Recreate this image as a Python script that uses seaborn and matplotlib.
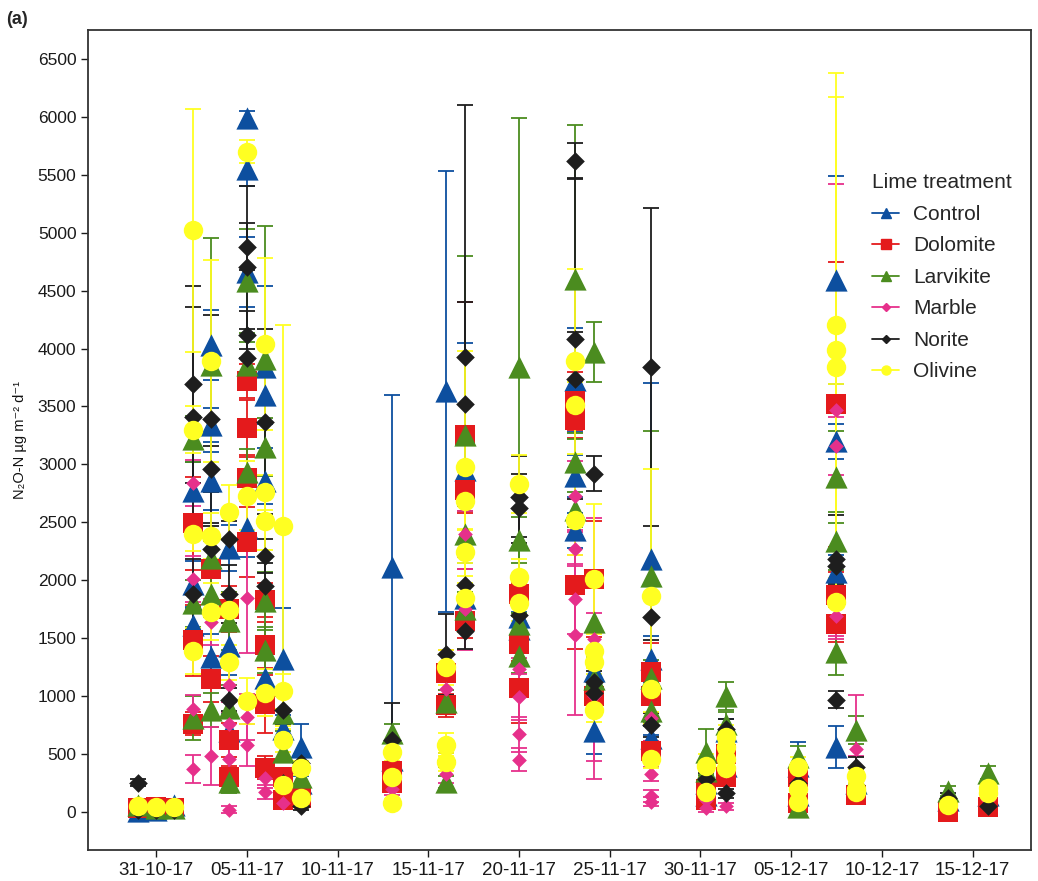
import pandas as pd
import numpy as np
import matplotlib.pyplot as plt
import matplotlib.dates as mdates
from matplotlib.lines import Line2D
import seaborn as sb

sb.set_style("white")
plt.rcParams['font.family'] = ['Liberation Sans', 'DejaVu Sans']

treatments = ["Control", "Dolomite", "Larvikite", "Marble", "Norite", "Olivine"]
colours = ["#0d4f9f", "#e41a1c", "#4b8c1f", "#e6308b", "#1e1e1e", "#ffff22"]
shapes = ["^", "s", "^", "D", "D", "o"]
sizes = [16, 14, 16, 7.5, 9.5, 14]   # marker size in points

# (sampling time, mean N2O-N flux, error)
control = [
    ("2017-10-30", 10, 10), ("2017-10-31", 20, 10), ("2017-11-01", 60, 20),
    ("2017-11-02", 2770, 250), ("2017-11-02", 1970, 200), ("2017-11-02", 1610, 150),
    ("2017-11-03", 4030, 300), ("2017-11-03", 3340, 150), ("2017-11-03", 2860, 250), ("2017-11-03", 1340, 200),
    ("2017-11-04", 2280, 200), ("2017-11-04", 1430, 250), ("2017-11-04", 700, 150),
    ("2017-11-05", 5990, 60), ("2017-11-05", 5550, 150), ("2017-11-05", 4660, 300), ("2017-11-05", 2450, 250),
    ("2017-11-06", 3840, 700), ("2017-11-06", 3600, 250), ("2017-11-06", 2860, 200), ("2017-11-06", 1160, 150),
    ("2017-11-07", 1320, 440), ("2017-11-07", 720, 120),
    ("2017-11-08", 560, 200), ("2017-11-08", 250, 60),
    ("2017-11-13", 2110, 1490), ("2017-11-13", 450, 80),
    ("2017-11-16", 3630, 1900),
    ("2017-11-17", 2950, 1100), ("2017-11-17", 1850, 300),
    ("2017-11-20", 1680, 200), ("2017-11-20", 1580, 150),
    ("2017-11-23 02:00", 3730, 450), ("2017-11-23 02:00", 2900, 180), ("2017-11-23 02:00", 2430, 150),
    ("2017-11-24 03:00", 1220, 120), ("2017-11-24 03:00", 700, 200),
    ("2017-11-27 06:00", 2180, 1520), ("2017-11-27 06:00", 1320, 200), ("2017-11-27 06:00", 640, 100),
    ("2017-11-30 08:00", 250, 60), ("2017-11-30 08:00", 150, 40),
    ("2017-12-01 10:00", 700, 100), ("2017-12-01 10:00", 400, 60),
    ("2017-12-05 09:00", 400, 200), ("2017-12-05 09:00", 150, 50),
    ("2017-12-07 12:00", 4590, 900), ("2017-12-07 12:00", 3200, 150), ("2017-12-07 12:00", 2070, 150),
    ("2017-12-07 12:00", 560, 180),
    ("2017-12-08 14:00", 250, 70),
    ("2017-12-13 16:00", 100, 30),
    ("2017-12-15 20:00", 150, 40),
]
dolomite = [
    ("2017-10-30", 30, 20), ("2017-10-31", 40, 20), ("2017-11-01", 30, 20),
    ("2017-11-02", 2490, 400), ("2017-11-02", 1480, 310), ("2017-11-02", 760, 100),
    ("2017-11-03", 2100, 300), ("2017-11-03", 1150, 200),
    ("2017-11-04", 1750, 200), ("2017-11-04", 620, 150), ("2017-11-04", 300, 100),
    ("2017-11-05", 3720, 150), ("2017-11-05", 3310, 250), ("2017-11-05", 2880, 200), ("2017-11-05", 2330, 300),
    ("2017-11-06", 1830, 150), ("2017-11-06", 1440, 200), ("2017-11-06", 930, 250), ("2017-11-06", 380, 100),
    ("2017-11-07", 300, 80), ("2017-11-07", 100, 40),
    ("2017-11-08", 120, 40),
    ("2017-11-13", 350, 80), ("2017-11-13", 250, 50),
    ("2017-11-16", 1200, 200), ("2017-11-16", 920, 100),
    ("2017-11-17", 3250, 1150), ("2017-11-17", 2780, 200), ("2017-11-17", 1650, 150),
    ("2017-11-20", 1880, 100), ("2017-11-20", 1450, 150), ("2017-11-20", 1070, 300),
    ("2017-11-23 02:00", 3550, 250), ("2017-11-23 02:00", 3380, 150), ("2017-11-23 02:00", 1960, 550),
    ("2017-11-24 03:00", 2010, 500), ("2017-11-24 03:00", 1000, 150),
    ("2017-11-27 06:00", 1210, 250), ("2017-11-27 06:00", 1000, 150), ("2017-11-27 06:00", 530, 80),
    ("2017-11-30 08:00", 200, 40), ("2017-11-30 08:00", 100, 30),
    ("2017-12-01 10:00", 500, 80), ("2017-12-01 10:00", 300, 60),
    ("2017-12-05 09:00", 300, 60), ("2017-12-05 09:00", 80, 30),
    ("2017-12-07 12:00", 3520, 1230), ("2017-12-07 12:00", 1870, 200), ("2017-12-07 12:00", 1620, 150),
    ("2017-12-08 14:00", 150, 40),
    ("2017-12-13 16:00", 0, 20),
    ("2017-12-15 20:00", 40, 20),
]
larvikite = [
    ("2017-10-30", 60, 30), ("2017-10-31", 30, 20), ("2017-11-01", 30, 20),
    ("2017-11-02", 3220, 200), ("2017-11-02", 1800, 200), ("2017-11-02", 810, 190),
    ("2017-11-03", 3860, 1090), ("2017-11-03", 2190, 150), ("2017-11-03", 1880, 200), ("2017-11-03", 880, 150),
    ("2017-11-04", 1650, 250), ("2017-11-04", 900, 200), ("2017-11-04", 260, 100),
    ("2017-11-05", 4580, 450), ("2017-11-05", 3860, 200), ("2017-11-05", 2930, 200),
    ("2017-11-06", 3910, 1150), ("2017-11-06", 3150, 250), ("2017-11-06", 1820, 250), ("2017-11-06", 1400, 200),
    ("2017-11-07", 850, 150), ("2017-11-07", 520, 80),
    ("2017-11-08", 300, 60),
    ("2017-11-13", 680, 80),
    ("2017-11-16", 950, 100), ("2017-11-16", 260, 50),
    ("2017-11-17", 3250, 1550), ("2017-11-17", 2400, 200), ("2017-11-17", 1750, 150),
    ("2017-11-20", 3840, 2150), ("2017-11-20", 2350, 200), ("2017-11-20", 1620, 100), ("2017-11-20", 1350, 150),
    ("2017-11-23 02:00", 4600, 1330), ("2017-11-23 02:00", 3020, 200), ("2017-11-23 02:00", 2610, 150),
    ("2017-11-24 03:00", 3970, 260), ("2017-11-24 03:00", 1640, 300), ("2017-11-24 03:00", 1150, 100),
    ("2017-11-27 06:00", 2040, 1250), ("2017-11-27 06:00", 1160, 150), ("2017-11-27 06:00", 870, 100),
    ("2017-11-30 08:00", 520, 200), ("2017-11-30 08:00", 350, 60),
    ("2017-12-01 10:00", 1000, 120), ("2017-12-01 10:00", 760, 100),
    ("2017-12-05 09:00", 470, 100), ("2017-12-05 09:00", 40, 30),
    ("2017-12-07 12:00", 2890, 400), ("2017-12-07 12:00", 2340, 250), ("2017-12-07 12:00", 1380, 200),
    ("2017-12-08 14:00", 710, 120),
    ("2017-12-13 16:00", 180, 40),
    ("2017-12-15 20:00", 340, 60),
]
marble = [
    ("2017-10-30", 10, 10), ("2017-10-31", 20, 10), ("2017-11-01", 20, 10),
    ("2017-11-02", 2840, 200), ("2017-11-02", 2010, 200), ("2017-11-02", 890, 120), ("2017-11-02", 370, 120),
    ("2017-11-03", 1640, 200), ("2017-11-03", 480, 250),
    ("2017-11-04", 1100, 150), ("2017-11-04", 760, 100), ("2017-11-04", 460, 100), ("2017-11-04", 20, 30),
    ("2017-11-05", 1850, 480), ("2017-11-05", 820, 200), ("2017-11-05", 580, 180),
    ("2017-11-06", 290, 80), ("2017-11-06", 170, 60),
    ("2017-11-07", 250, 60), ("2017-11-07", 80, 30),
    ("2017-11-08", 100, 40),
    ("2017-11-13", 200, 50),
    ("2017-11-16", 1060, 150), ("2017-11-16", 330, 80),
    ("2017-11-17", 2400, 200), ("2017-11-17", 1750, 350),
    ("2017-11-20", 1230, 100), ("2017-11-20", 990, 200), ("2017-11-20", 670, 150), ("2017-11-20", 450, 100),
    ("2017-11-23 02:00", 2730, 300), ("2017-11-23 02:00", 2270, 150), ("2017-11-23 02:00", 1840, 300),
    ("2017-11-23 02:00", 1530, 690),
    ("2017-11-24 03:00", 1490, 1050), ("2017-11-24 03:00", 1000, 720),
    ("2017-11-27 06:00", 810, 200), ("2017-11-27 06:00", 330, 60), ("2017-11-27 06:00", 140, 50),
    ("2017-11-27 06:00", 90, 40),
    ("2017-11-30 08:00", 30, 30), ("2017-11-30 08:00", 100, 40),
    ("2017-12-01 10:00", 350, 60), ("2017-12-01 10:00", 50, 30),
    ("2017-12-05 09:00", 200, 50),
    ("2017-12-07 12:00", 3470, 1950), ("2017-12-07 12:00", 3160, 250), ("2017-12-07 12:00", 1690, 200),
    ("2017-12-08 14:00", 540, 470), ("2017-12-08 14:00", 400, 80),
    ("2017-12-13 16:00", 50, 20),
    ("2017-12-15 20:00", 100, 30),
]
norite = [
    ("2017-10-30", 250, 30), ("2017-10-30", 20, 10), ("2017-10-31", 20, 10), ("2017-11-01", 20, 10),
    ("2017-11-02", 3690, 850), ("2017-11-02", 3410, 950), ("2017-11-02", 1880, 300),
    ("2017-11-03", 3390, 900), ("2017-11-03", 2960, 200), ("2017-11-03", 2270, 200),
    ("2017-11-04", 2360, 150), ("2017-11-04", 1880, 250), ("2017-11-04", 970, 100),
    ("2017-11-05", 4880, 200), ("2017-11-05", 4700, 700), ("2017-11-05", 4120, 200), ("2017-11-05", 3920, 250),
    ("2017-11-06", 3370, 800), ("2017-11-06", 2210, 150), ("2017-11-06", 1950, 200),
    ("2017-11-07", 880, 120), ("2017-11-07", 250, 60),
    ("2017-11-08", 420, 80), ("2017-11-08", 50, 30),
    ("2017-11-13", 620, 320),
    ("2017-11-16", 1360, 350), ("2017-11-16", 450, 60),
    ("2017-11-17", 3930, 2170), ("2017-11-17", 3520, 880), ("2017-11-17", 1960, 250), ("2017-11-17", 1560, 150),
    ("2017-11-20", 2720, 350), ("2017-11-20", 2620, 300), ("2017-11-20", 1700, 150),
    ("2017-11-23 02:00", 5620, 150), ("2017-11-23 02:00", 4080, 1380), ("2017-11-23 02:00", 3740, 400),
    ("2017-11-24 03:00", 2920, 150), ("2017-11-24 03:00", 1120, 100), ("2017-11-24 03:00", 1030, 100),
    ("2017-11-27 06:00", 3840, 1370), ("2017-11-27 06:00", 1680, 200), ("2017-11-27 06:00", 750, 100),
    ("2017-11-30 08:00", 280, 60), ("2017-11-30 08:00", 180, 40),
    ("2017-12-01 10:00", 720, 80), ("2017-12-01 10:00", 160, 40),
    ("2017-12-05 09:00", 250, 50),
    ("2017-12-07 12:00", 2180, 380), ("2017-12-07 12:00", 2120, 150), ("2017-12-07 12:00", 970, 70),
    ("2017-12-08 14:00", 390, 80), ("2017-12-08 14:00", 230, 50),
    ("2017-12-13 16:00", 120, 40),
    ("2017-12-15 20:00", 50, 30),
]
olivine = [
    ("2017-10-30", 50, 20), ("2017-10-31", 40, 20), ("2017-11-01", 40, 20),
    ("2017-11-02", 5020, 1050), ("2017-11-02", 3300, 200), ("2017-11-02", 2400, 150), ("2017-11-02", 1390, 200),
    ("2017-11-03", 3890, 870), ("2017-11-03", 2380, 200), ("2017-11-03", 1730, 250),
    ("2017-11-04", 2590, 230), ("2017-11-04", 1740, 150), ("2017-11-04", 1290, 150),
    ("2017-11-05", 5700, 100), ("2017-11-05", 2730, 300), ("2017-11-05", 960, 200),
    ("2017-11-06", 4040, 740), ("2017-11-06", 2760, 150), ("2017-11-06", 2510, 250), ("2017-11-06", 1030, 200),
    ("2017-11-07", 2470, 1730), ("2017-11-07", 1040, 150), ("2017-11-07", 620, 100), ("2017-11-07", 230, 60),
    ("2017-11-08", 380, 60), ("2017-11-08", 120, 40),
    ("2017-11-13", 520, 80), ("2017-11-13", 300, 60), ("2017-11-13", 80, 30),
    ("2017-11-16", 1250, 150), ("2017-11-16", 580, 100), ("2017-11-16", 430, 80),
    ("2017-11-17", 2980, 1000), ("2017-11-17", 2680, 250), ("2017-11-17", 2240, 200), ("2017-11-17", 1850, 300),
    ("2017-11-20", 2830, 250), ("2017-11-20", 2030, 150), ("2017-11-20", 1800, 150),
    ("2017-11-23 02:00", 3890, 800), ("2017-11-23 02:00", 3510, 200), ("2017-11-23 02:00", 2520, 300),
    ("2017-11-24 03:00", 2010, 650), ("2017-11-24 03:00", 1390, 150), ("2017-11-24 03:00", 1290, 100),
    ("2017-11-24 03:00", 880, 100),
    ("2017-11-27 06:00", 1860, 1100), ("2017-11-27 06:00", 1060, 200), ("2017-11-27 06:00", 460, 80),
    ("2017-11-30 08:00", 400, 100), ("2017-11-30 08:00", 170, 40),
    ("2017-12-01 10:00", 650, 100), ("2017-12-01 10:00", 560, 80), ("2017-12-01 10:00", 460, 80),
    ("2017-12-01 10:00", 380, 60),
    ("2017-12-05 09:00", 390, 80), ("2017-12-05 09:00", 200, 50), ("2017-12-05 09:00", 90, 30),
    ("2017-12-07 12:00", 4200, 2180), ("2017-12-07 12:00", 3990, 2180), ("2017-12-07 12:00", 3840, 150),
    ("2017-12-07 12:00", 1810, 200),
    ("2017-12-08 14:00", 310, 60), ("2017-12-08 14:00", 200, 50), ("2017-12-08 14:00", 170, 40),
    ("2017-12-13 16:00", 60, 20),
    ("2017-12-15 20:00", 210, 40), ("2017-12-15 20:00", 160, 30),
]

tick_dates = pd.date_range("2017-10-31", "2017-12-15", freq="5D")

frames = []
for name, rows in zip(treatments, [control, dolomite, larvikite, marble, norite, olivine]):
    d = pd.DataFrame(rows, columns=["date", "flux", "err"])
    d["treatment"] = name
    frames.append(d)
df = pd.concat(frames, ignore_index=True)
df["date"] = pd.to_datetime(df["date"], format="ISO8601")

fig, ax = plt.subplots(figsize=(10.38, 8.81), dpi=100)
fig.subplots_adjust(left=0.085, right=0.993, top=0.966, bottom=0.035)

# error bars underneath all points
for name, col in zip(treatments, colours):
    d = df[df.treatment == name]
    ax.errorbar(d["date"], d["flux"], yerr=d["err"], fmt="none", ecolor=col,
                elinewidth=1.3, capsize=6, capthick=1.3, zorder=1)

for name, col, mk, ms in zip(treatments, colours, shapes, sizes):
    d = df[df.treatment == name]
    sb.scatterplot(data=d, x="date", y="flux", color=col, marker=mk, s=ms ** 2,
                   linewidth=0, ax=ax, zorder=3, legend=False)

ax.set_xlim(pd.Timestamp("2017-10-27 06:00"), pd.Timestamp("2017-12-18 05:00"))
ax.set_ylim(-330, 6750)
ax.set_yticks(np.arange(0, 6501, 500))
ax.set_xticks(tick_dates)
ax.xaxis.set_major_formatter(mdates.DateFormatter("%d-%m-%y"))
ax.tick_params(axis="x", labelsize=13.5, length=5, width=1, colors="#1a1a1a", direction="out", bottom=True)
ax.tick_params(axis="y", labelsize=12.5, length=5, width=1, colors="#1a1a1a", direction="out", left=True)
for sp in ax.spines.values():
    sp.set_color("#333333")
    sp.set_linewidth(1.3)
ax.set_xlabel("")
ax.set_ylabel("N₂O-N µg m⁻² d⁻¹", fontsize=10.5, color="#111111", labelpad=8)

handles = [Line2D([0], [0], color=c, marker=m, markersize=6.5 if m != "D" else 4.5,
                  linewidth=1.3, label=t) for t, c, m in zip(treatments, colours, shapes)]
leg = ax.legend(handles=handles, title="Lime treatment", frameon=False, loc="upper left",
                bbox_to_anchor=(0.812, 0.848), fontsize=15, title_fontsize=15,
                handlelength=1.3, handletextpad=0.65, labelspacing=0.6, alignment="left")

fig.text(0.006, 0.988, "(a)", fontsize=13, fontweight="bold", va="top", ha="left")

plt.savefig("out.png", dpi=100)
